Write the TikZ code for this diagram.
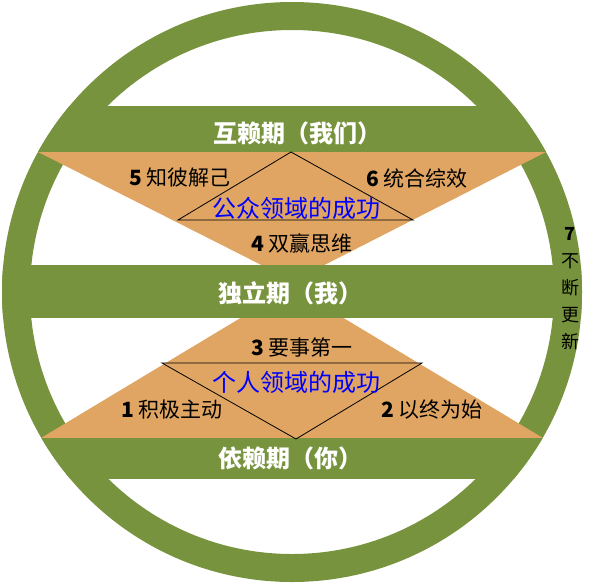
\documentclass[tikz,border=0pt]{standalone}
\usepackage{fontspec}
\newfontfamily\cjk{Noto Sans CJK SC}
\usetikzlibrary{calc}
\definecolor{ringgreen}{RGB}{119,147,61}
\definecolor{fieldorange}{RGB}{224,165,98}

\begin{document}
\begin{tikzpicture}[x=1pt,y=-1pt,
    band/.style={fill=ringgreen},
    field/.style={fill=fieldorange},
    frame/.style={draw=black,line width=0.8pt,line join=miter},
    stage/.style={text=white,font=\cjk\bfseries\fontsize{24}{24}\selectfont},
    habit/.style={text=black,font=\cjk\fontsize{21}{21}\selectfont},
    area/.style={text=blue,font=\cjk\fontsize{24}{24}\selectfont}]
                \useasboundingbox (0,0) rectangle (597,584);
                % ring
                \fill[ringgreen,even odd rule] (292,292) circle[radius=290pt] (292,292) circle[radius=262pt];
                \begin{scope}
                \clip (292,292) circle[radius=290pt];
                % two fields
                \fill[field] (38,152)--(546,152)--(293,281)--cycle;
                \fill[field] (41,438)--(543,438)--(292,287)--cycle;
                % three bands
                \fill[band] (0,106) rectangle (597,152);
                \fill[band] (0,265) rectangle (597,318);
                \fill[band] (0,438) rectangle (597,479);
                \end{scope}
                \draw[frame] (291,152)--(178,220)--(413,220)--cycle;
                \draw[frame] (162,363)--(422,363)--(296,439)--cycle;
                % labels
                \node[stage] (interdep) at (297,133) {互赖期（我们）};
                \node[stage] (indep) at (290,293) {独立期（我）};
                \node[stage] (dep) at (290,458) {依赖期（你）};
                \node[habit] (h5) at (180,178) {\textbf{5} 知彼解己};
                \node[habit] (h6) at (417,178) {\textbf{6} 统合综效};
                \node[area] (public) at (296,208) {公众领域的成功};
                \node[habit] (h4) at (302,243) {\textbf{4} 双赢思维};
                \node[habit] (h3) at (302,347) {\textbf{3} 要事第一};
                \node[area] (private) at (296,382) {个人领域的成功};
                \node[habit] (h1) at (172,410) {\textbf{1} 积极主动};
                \node[habit] (h2) at (432,410) {\textbf{2} 以终为始};
                \node[habit,align=center,font=\cjk\fontsize{18}{27}\selectfont] (h7) at (570,289) {\textbf{7}\\不\\断\\更\\新};
            \end{tikzpicture}
\end{document}
